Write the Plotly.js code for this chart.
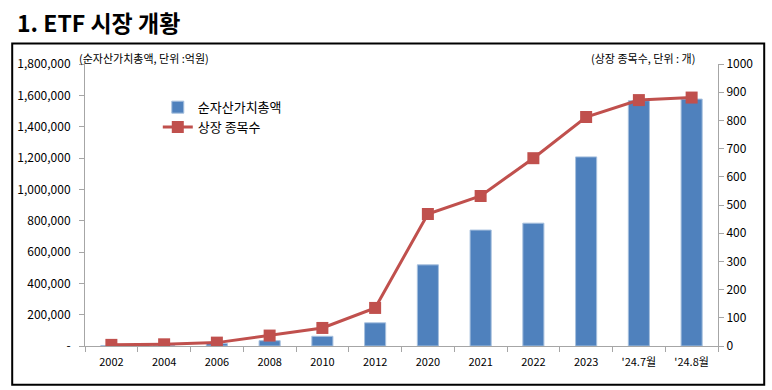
<!DOCTYPE html>
<html>
<head>
<meta charset="utf-8">
<script src="https://cdn.plot.ly/plotly-3.0.1.min.js"></script>
<style>html,body{margin:0;padding:0;background:#fff}#chart{width:772px;height:390px}</style>
</head>
<body>
<div id="chart"></div>
<script>
const categoryLabels = ['2002','2004','2006','2008','2010','2012','2020','2021','2022','2023',"'24.7월","'24.8월"];
const netAssets = [3400, 5000, 15600, 34000, 62000, 148000, 518000, 740000, 784000, 1207000, 1566000, 1576000];
const listedCount = [4, 6, 12, 37, 64, 135, 468, 532, 666, 812, 872, 881];
const leftTicks = [0, 200000, 400000, 600000, 800000, 1000000, 1200000, 1400000, 1600000, 1800000];
const leftTickText = ['-', '200,000', '400,000', '600,000', '800,000', '1,000,000', '1,200,000', '1,400,000', '1,600,000', '1,800,000'];
const rightTicks = [0, 100, 200, 300, 400, 500, 600, 700, 800, 900, 1000];

const FONT = '"Noto Sans CJK KR", "Noto Sans", sans-serif';

const traces = [
  {
    type: 'bar', name: '순자산가치총액', x: categoryLabels, y: netAssets,
    marker: {color: '#4F81BD', line: {color: '#A7C0DE', width: 1}},
    yaxis: 'y'
  },
  {
    type: 'scatter', mode: 'lines+markers', name: '상장 종목수', x: categoryLabels, y: listedCount,
    line: {color: '#C0504D', width: 3},
    marker: {symbol: 'square', size: 12, color: '#C0504D'},
    yaxis: 'y2'
  }
];

const layout = {
  width: 772, height: 390,
  margin: {l: 85, r: 54, t: 64, b: 44},
  paper_bgcolor: '#fff', plot_bgcolor: '#fff',
  font: {family: FONT, color: '#000', size: 12},
  showlegend: true,
  legend: {x: 0.115, y: 0.9, xanchor: 'left', yanchor: 'top', bgcolor: 'rgba(0,0,0,0)',
           font: {size: 13, family: FONT}, tracegroupgap: 4},
  bargap: 0.6,
  xaxis: {
    type: 'category', range: [-0.5, 11.5], autorange: false,
    showgrid: false, zeroline: false,
    showline: true, linecolor: '#A6A6A6', linewidth: 1,
    ticks: 'outside', tickson: 'boundaries', ticklen: 5, tickcolor: '#A6A6A6',
    ticklabelstandoff: 6,
    tickfont: {size: 11, family: FONT}
  },
  yaxis: {
    range: [0, 1800000], showgrid: false, zeroline: false,
    showline: true, linecolor: '#A6A6A6', linewidth: 1,
    ticks: 'outside', ticklen: 5, tickcolor: '#A6A6A6',
    ticklabelstandoff: 6,
    tickvals: leftTicks, ticktext: leftTickText,
    tickfont: {size: 12, family: FONT}
  },
  yaxis2: {
    range: [0, 1000], overlaying: 'y', side: 'right', showgrid: false, zeroline: false,
    showline: true, linecolor: '#A6A6A6', linewidth: 1,
    ticks: 'outside', ticklen: 5, tickcolor: '#A6A6A6',
    tickvals: rightTicks,
    tickfont: {size: 12, family: FONT}
  },
  annotations: [
    {text: '<b>1. ETF 시장 개황</b>', xref: 'paper', yref: 'paper', x: -0.110, y: 1.149,
     xanchor: 'left', yanchor: 'middle', showarrow: false, font: {size: 23, family: FONT, color: '#000'}},
    {text: '(순자산가치총액, 단위 :억원)', xref: 'paper', yref: 'paper', x: -0.013, y: 1.02,
     xanchor: 'left', yanchor: 'middle', showarrow: false, font: {size: 11, family: FONT, color: '#000'}},
    {text: '(상장 종목수, 단위 : 개)', xref: 'paper', yref: 'paper', x: 0.967, y: 1.02,
     xanchor: 'right', yanchor: 'middle', showarrow: false, font: {size: 11, family: FONT, color: '#000'}}
  ],
  shapes: [
    {type: 'rect', xref: 'paper', yref: 'paper', x0: -0.115, x1: 1.073, y0: -0.137, y1: 1.073,
     line: {color: '#000', width: 2}, fillcolor: 'rgba(0,0,0,0)', layer: 'above'}
  ]
};

Plotly.newPlot('chart', traces, layout, {displayModeBar: false, staticPlot: true});
</script>
</body>
</html>
